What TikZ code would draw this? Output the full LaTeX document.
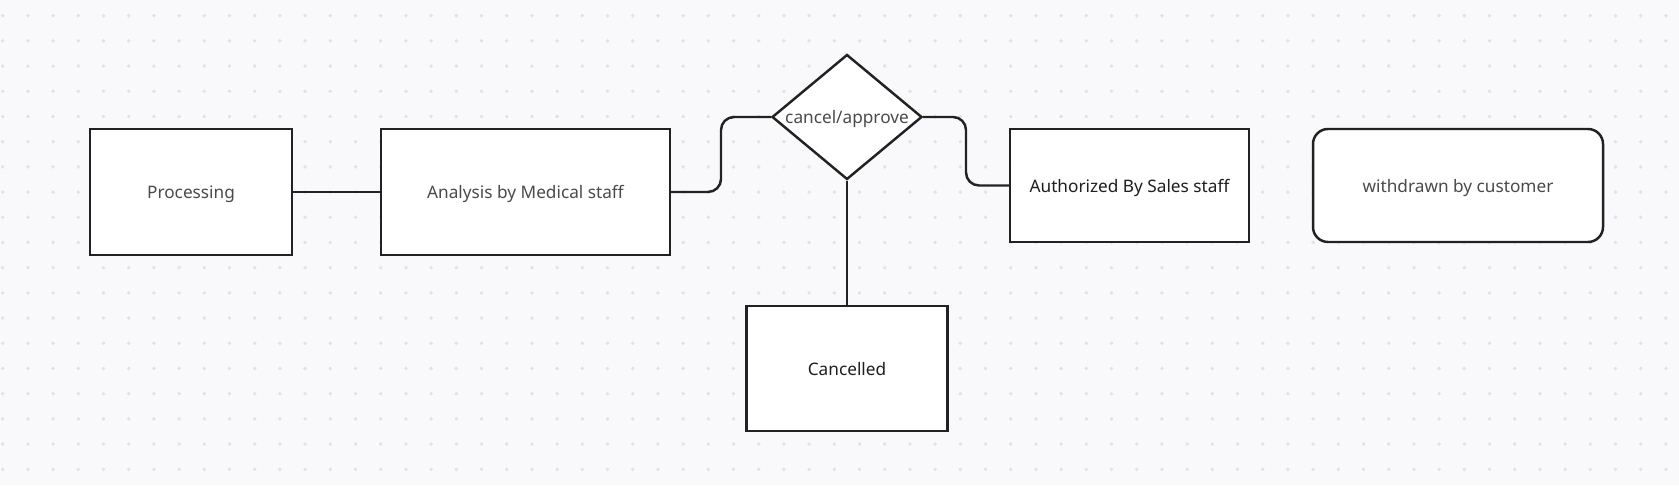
\documentclass[tikz,border=0pt]{standalone}
\usepackage{fontspec}
\setmainfont{Noto Sans}
\usetikzlibrary{calc,shapes.geometric,positioning}
\definecolor{canvas}{HTML}{F9F9FB}
\definecolor{dotgray}{HTML}{E2E2E6}
\definecolor{edge}{HTML}{222222}
\definecolor{softtext}{HTML}{4A4A4A}
\definecolor{hardtext}{HTML}{1E1E1E}
\tikzset{
  state/.style={draw=edge,fill=white,line width=1.4pt,inner sep=0pt,text=softtext,text depth=0pt,font=\fontsize{9.8}{12}\selectfont},
  link/.style={draw=edge,line width=1.4pt,rounded corners=0.26cm}
}

\begin{document}
\begin{tikzpicture}[scale=1]
\fill[canvas] (0,0) rectangle (33.58,9.70);
\useasboundingbox (0,0) rectangle (33.58,9.70);
%dot grid
\foreach \i in {0,...,66}
  \foreach \j in {0,...,18}
    \fill[dotgray] (0.054+\i*0.504,9.386-\j*0.504) circle (0.038);
%states
\node[state,minimum width=4.04cm,minimum height=2.52cm] (PROC) at (3.82,5.86) {Processing};
\node[state,minimum width=5.78cm,minimum height=2.52cm] (ANALYSIS) at (10.51,5.86) {Analysis by Medical staff};
\node[state,diamond,minimum width=3.0cm,minimum height=2.5cm] (DECIDE) at (16.94,7.36) {};
\node[text=softtext,text depth=0pt,font=\fontsize{9.8}{12}\selectfont] (DECIDETXT) at (DECIDE.center) {cancel/approve};
\node[state,text=hardtext,minimum width=4.02cm,minimum height=2.5cm] (CANCELLED) at (16.94,2.33) {Cancelled};
\node[state,text=hardtext,minimum width=4.78cm,minimum height=2.26cm] (AUTHSALES) at (22.59,5.99) {Authorized By Sales staff};
\node[state,rounded corners=0.3cm,minimum width=5.8cm,minimum height=2.26cm] (WITHDRAWN) at (29.16,5.99) {withdrawn by customer};
%links
\draw[link] (PROC.east) -- (ANALYSIS.west);
\draw[link] (ANALYSIS.east) -| ($(ANALYSIS.east)!0.5!(DECIDE.west)$) |- (DECIDE.west);
\draw[link] (DECIDE.east) -| ($(DECIDE.east)!0.5!(AUTHSALES.west)$) |- (AUTHSALES.west);
\draw[link] (DECIDE.south) -- (CANCELLED.north);
\end{tikzpicture}
\end{document}
